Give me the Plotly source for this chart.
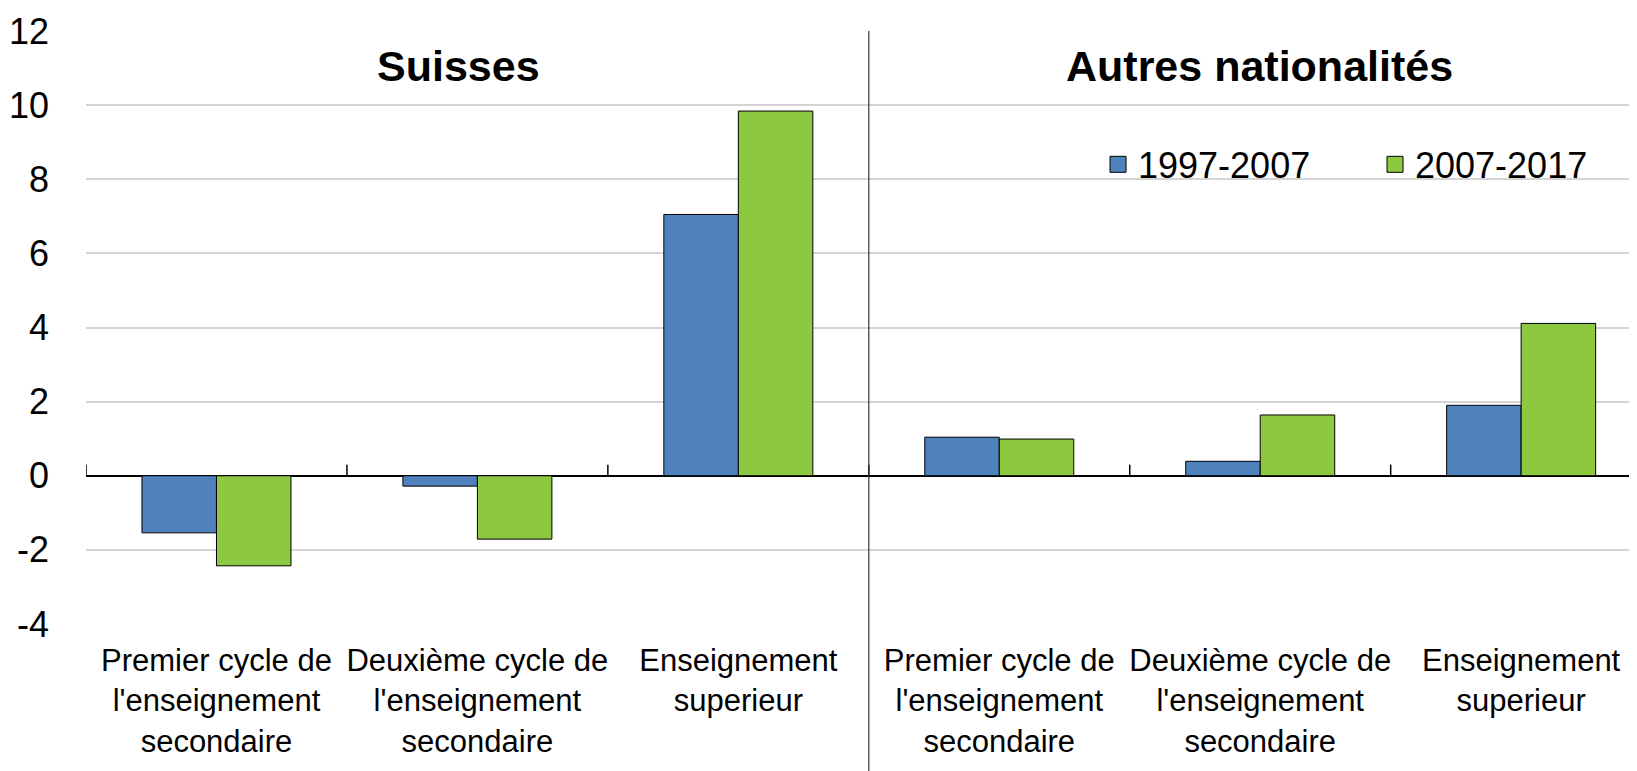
import plotly.graph_objects as go

# ---- data ----
groups = ["Suisses", "Autres nationalités"]
categories = [
    "Premier cycle de<br>l'enseignement<br>secondaire",
    "Deuxième cycle de<br>l'enseignement<br>secondaire",
    "Enseignement<br>superieur",
]
series_names = ["1997-2007", "2007-2017"]
suisses_1997_2007 = [-1.54, -0.28, 7.05]
suisses_2007_2017 = [-2.43, -1.71, 9.84]
autres_1997_2007 = [1.04, 0.39, 1.90]
autres_2007_2017 = [0.99, 1.64, 4.11]
y_ticks = [-4, -2, 0, 2, 4, 6, 8, 10, 12]
y_tick_labels = [str(v) for v in y_ticks]

# ---- styling ----
colors = ["#4F81BD", "#8CC840"]
REG = "Liberation Sans, Arial"

all_labels = categories + categories
xpos = list(range(len(all_labels)))
values = [suisses_1997_2007 + autres_1997_2007, suisses_2007_2017 + autres_2007_2017]

fig = go.Figure()
for name, vals, col in zip(series_names, values, colors):
    fig.add_trace(go.Bar(
        x=xpos, y=vals, name=name, showlegend=False,
        marker=dict(color=col, line=dict(color="black", width=1)),
    ))
# legend entries with larger square swatches
for name, col in zip(series_names, colors):
    fig.add_trace(go.Scatter(
        x=[None], y=[None], mode="markers", name=name,
        marker=dict(symbol="square", size=22, color=col, line=dict(color="black", width=1)),
    ))

# boundary ticks on the zero line
ncat = len(all_labels)
for i in range(ncat):
    b = i - 0.5
    fig.add_shape(type="line", xref="x", yref="y", x0=b, x1=b, y0=0, y1=0.3,
                  line=dict(color="black", width=1.5))
# divider between groups
mid = len(categories) - 0.5
fig.add_shape(type="line", xref="x", yref="paper", x0=mid, x1=mid, y0=-0.25, y1=1,
              line=dict(color="#333333", width=1.2))

# group titles
title_x = [0.929, 3.996]
for g, tx in zip(groups, title_x):
    fig.add_annotation(x=tx, y=11.06, xref="x", yref="y", text="<b>%s</b>" % g,
                       showarrow=False, font=dict(family=REG, size=43, color="black"),
                       xanchor="center", yanchor="middle")

fig.update_layout(
    width=1629, height=763,
    margin=dict(l=78, r=0, t=23, b=147, autoexpand=False),
    paper_bgcolor="white", plot_bgcolor="white",
    barmode="group", bargap=0.429, bargroupgap=0,
    showlegend=True,
    legend=dict(orientation="h", x=0.6525, y=0.775, xanchor="left", yanchor="middle",
                font=dict(family=REG, size=36, color="black"),
                bgcolor="rgba(0,0,0,0)", entrywidth=232, entrywidthmode="pixels"),
    xaxis=dict(range=[-0.5, 5.444], tickmode="array", tickvals=xpos, ticktext=all_labels,
               showgrid=False, zeroline=False, showline=False, ticks="",
               tickfont=dict(family=REG, size=31, color="black"), ticklabelstandoff=15),
    yaxis=dict(range=[-4, 12], tickmode="array", tickvals=y_ticks, ticktext=y_tick_labels,
               showgrid=True, gridcolor="#D4D4D4", gridwidth=1.5,
               zeroline=True, zerolinecolor="black", zerolinewidth=1.5,
               showline=False, ticks="",
               tickfont=dict(family=REG, size=36, color="black"), ticklabelstandoff=36),
)

fig.write_html("out.html")
